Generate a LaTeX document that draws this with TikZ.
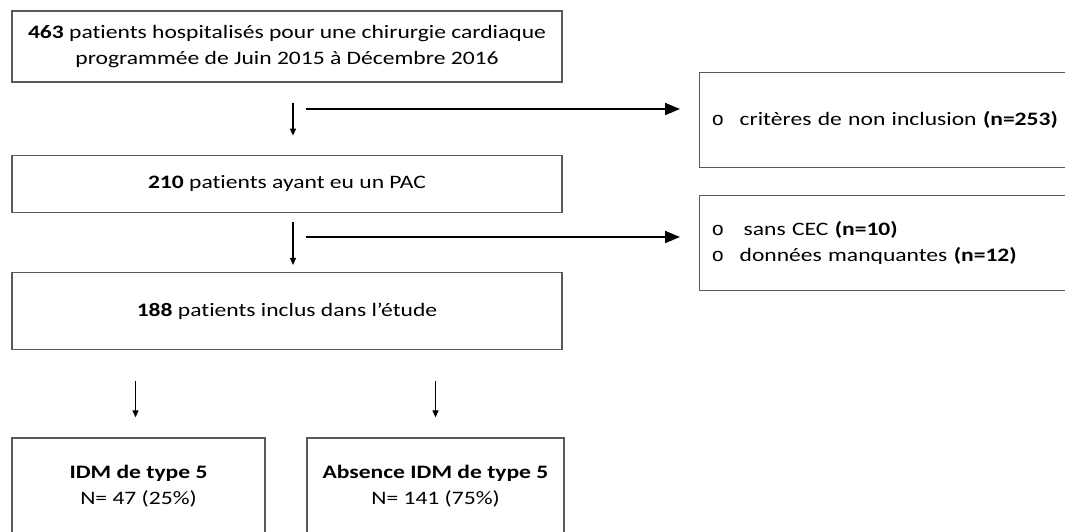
\documentclass[tikz,border=0pt]{standalone}
\usepackage{fontspec}
\setmainfont{Carlito}[FakeStretch=1.24, Ligatures=NoCommon]
\newfontfamily\bulletfont{Liberation Mono}[FakeStretch=1.1]
\usepackage{xcolor}
\usetikzlibrary{arrows.meta,positioning}
\definecolor{boxgray}{HTML}{595959}

\begin{document}
\begin{tikzpicture} [
        x = 1pt, y = -1pt,
        every node/.style = {font=\fontsize{19}{26}\selectfont, inner sep = 0},
        box/.style = {draw = boxgray, line width = 1.3pt, minimum width = 550pt, align = center},
        groupbox/.style = {draw = boxgray, line width = 1.3pt, minimum height = 96pt, align = center},
        sidebox/.style = {draw = boxgray, line width = 1.3pt, anchor = north west, minimum height = 95pt,
                text width = 370pt, inner xsep = 12pt, align = left},
        flow/.style = {line width = 1.2pt, -{Triangle[length=7pt, width=6pt]}},
        exclude/.style = {line width = 2pt, -{Triangle[length=15pt, width=12pt]}}
        ]

        \clip (0,0) rectangle (1065,532);

        % main column
        \node [box, minimum height = 71pt] (pop) at (287,46.5)
        {\textbf{463} patients hospitalisés pour une chirurgie cardiaque\\ programmée de Juin 2015 à Décembre 2016};
        \node [box, minimum height = 57pt, below = 72pt of pop] (pac) {\textbf{210} patients ayant eu un PAC};
        \node [box, minimum height = 77pt, below = 59pt of pac] (inclus) {\textbf{188} patients inclus dans l’étude};

        % groups
        \node [groupbox, minimum width = 253pt] (idm) at (138.5,486) {\textbf{IDM de type 5}\\ N= 47 (25\%)};
        \node [groupbox, minimum width = 257pt] (noidm) at (435.5,486) {\textbf{Absence IDM de type 5}\\ N= 141 (75\%)};

        % exclusions
        \node [sidebox] (exclA) at (699,72)
        {\makebox[28pt][l]{\bulletfont o}critères de non inclusion \textbf{(n=253)}};
        \node [sidebox] (exclB) at (699,195)
        {\makebox[32pt][l]{\bulletfont o}sans CEC \textbf{(n=10)}\\
         \makebox[28pt][l]{\bulletfont o}données manquantes \textbf{(n=12)}};

        \coordinate (splitA) at (306,109);
        \coordinate (splitB) at (306,237);

        \draw [flow, shorten <= 20pt, shorten >= 19pt] ([xshift=6pt]pop.south) -- ([xshift=6pt]pac.north);
        \draw [flow, shorten <= 9pt, shorten >= 7pt] ([xshift=6pt]pac.south) -- ([xshift=6pt]inclus.north);
        \draw [flow, shorten <= 31pt, shorten >= 20pt] ([xshift=-3pt]inclus.south -| idm.north) -- ([xshift=-3pt]idm.north);
        \draw [flow, shorten <= 31pt, shorten >= 20pt] (inclus.south -| noidm.north) -- (noidm.north);
        \draw [exclude, shorten >= 19pt] (splitA) -- (splitA -| exclA.west);
        \draw [exclude, shorten >= 19pt] (splitB) -- (splitB -| exclB.west);
    \end{tikzpicture}
\end{document}
